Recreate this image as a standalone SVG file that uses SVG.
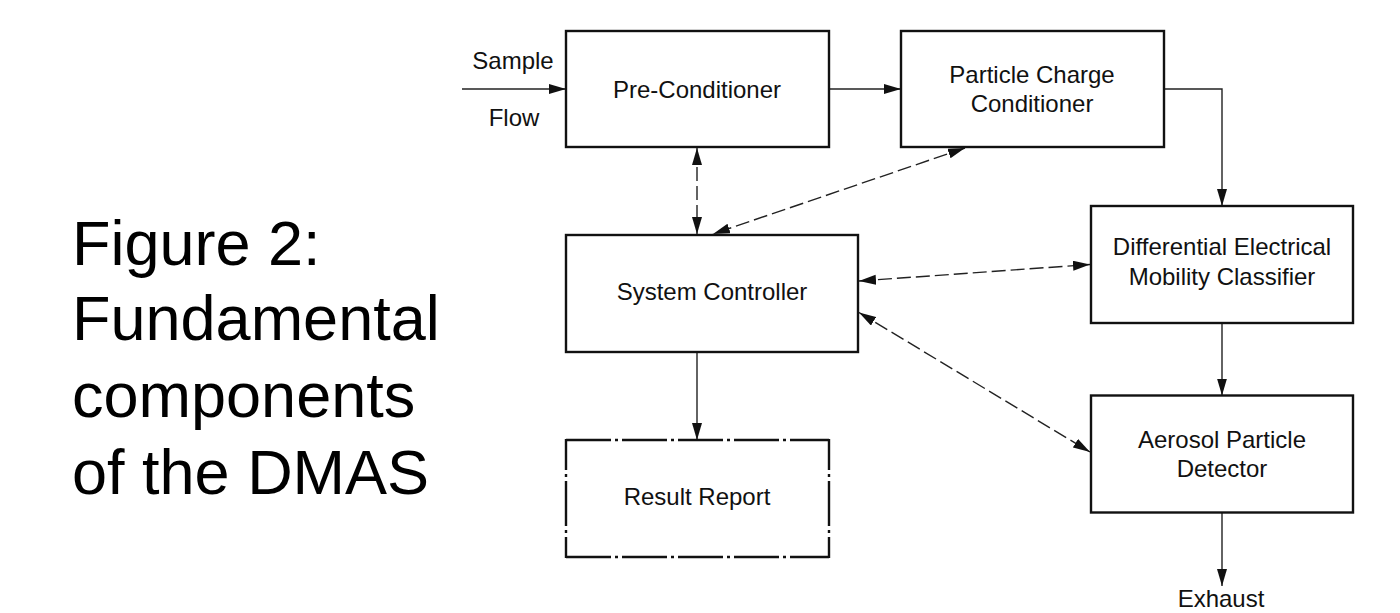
<svg xmlns="http://www.w3.org/2000/svg" width="1400" height="613" viewBox="0 0 1400 613">
<style>
.box{fill:#fff;stroke:#111;stroke-width:2.4}
.dd{fill:none;stroke:#111;stroke-width:2.4}
.lbl{font-family:"Liberation Sans",Arial,sans-serif;font-size:24px;fill:#111;text-anchor:middle}
.title{font-family:"Liberation Sans",Arial,sans-serif;font-size:63px;fill:#000}
.c{fill:none;stroke:#222;stroke-width:1.4}
.d{fill:none;stroke:#222;stroke-width:1.4;stroke-dasharray:14 5}
</style>
<defs>
<marker id="ah" markerUnits="userSpaceOnUse" markerWidth="18" markerHeight="11" refX="17" refY="5" orient="auto-start-reverse">
<path d="M0,0 L17,5 L0,10 z" fill="#111"/>
</marker>
</defs>
<rect width="1400" height="613" fill="#fff"/>
<g id="caption">
<text class="title" x="72" y="265">Figure 2:</text>
<text class="title" x="72" y="340">Fundamental</text>
<text class="title" x="72" y="417">components</text>
<text class="title" x="72" y="494">of the DMAS</text>
</g>
<g id="connectors">
<line class="c" x1="462" y1="89" x2="566" y2="89" marker-end="url(#ah)"/>
<line class="c" x1="829" y1="89" x2="901" y2="89" marker-end="url(#ah)"/>
<polyline class="c" points="1164,89 1222,89 1222,206" marker-end="url(#ah)"/>
<line class="c" x1="1222" y1="323" x2="1222" y2="395.5" marker-end="url(#ah)"/>
<line class="c" x1="1222" y1="512" x2="1222" y2="586" marker-end="url(#ah)"/>
<line class="c" x1="697" y1="352" x2="697" y2="440" marker-end="url(#ah)"/>
<line class="d" x1="697" y1="148" x2="697" y2="234" marker-start="url(#ah)" marker-end="url(#ah)"/>
<line class="d" x1="965" y1="148" x2="713" y2="234" marker-start="url(#ah)" marker-end="url(#ah)"/>
<line class="d" x1="859" y1="281" x2="1090" y2="264.5" marker-start="url(#ah)" marker-end="url(#ah)"/>
<line class="d" x1="859" y1="312.5" x2="1090" y2="452" marker-start="url(#ah)" marker-end="url(#ah)"/>
</g>
<g id="sample-flow">
<text class="lbl" x="513" y="69">Sample</text>
<text class="lbl" x="514" y="126">Flow</text>
</g>
<g id="pre-conditioner">
<rect class="box" x="566" y="31" width="263" height="116"/>
<text class="lbl" x="697" y="98">Pre-Conditioner</text>
</g>
<g id="particle-charge-conditioner">
<rect class="box" x="901" y="31" width="263" height="116"/>
<text class="lbl" x="1032" y="83">Particle Charge</text>
<text class="lbl" x="1032" y="112">Conditioner</text>
</g>
<g id="system-controller">
<rect class="box" x="566" y="235" width="292" height="117"/>
<text class="lbl" x="712" y="300">System Controller</text>
</g>
<g id="dem-classifier">
<rect class="box" x="1091" y="206" width="262" height="117"/>
<text class="lbl" x="1222" y="255">Differential Electrical</text>
<text class="lbl" x="1222" y="285">Mobility Classifier</text>
</g>
<g id="aerosol-particle-detector">
<rect class="box" x="1091" y="395.5" width="262" height="117"/>
<text class="lbl" x="1222" y="448">Aerosol Particle</text>
<text class="lbl" x="1222" y="477">Detector</text>
</g>
<g id="result-report">
<rect x="566" y="440" width="263" height="117" fill="#fff"/>
<line class="dd" x1="566" y1="440" x2="829" y2="440" stroke-dasharray="45 4 3 4"/>
<line class="dd" x1="566" y1="557" x2="829" y2="557" stroke-dasharray="45 4 3 4"/>
<line class="dd" x1="566" y1="439" x2="566" y2="558" stroke-dasharray="45 4 3 4" stroke-dashoffset="14"/>
<line class="dd" x1="829" y1="439" x2="829" y2="558" stroke-dasharray="45 4 3 4" stroke-dashoffset="14"/>
<text class="lbl" x="697" y="505">Result Report</text>
</g>
<g id="exhaust">
<text class="lbl" x="1221" y="607">Exhaust</text>
</g>
</svg>
